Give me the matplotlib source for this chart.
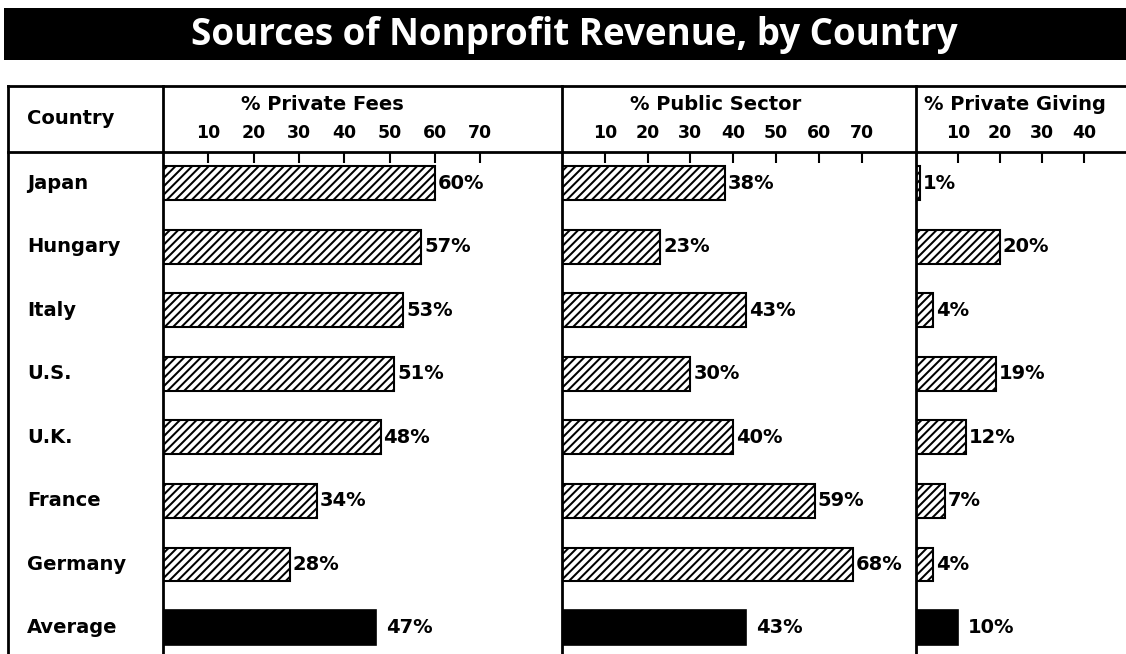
import matplotlib
matplotlib.use("Agg")
import matplotlib.pyplot as plt
from matplotlib.lines import Line2D
from matplotlib.patches import Rectangle
from matplotlib.transforms import blended_transform_factory

countries = ["Japan", "Hungary", "Italy", "U.S.", "U.K.", "France", "Germany", "Average"]
private_fees = [60, 57, 53, 51, 48, 34, 28, 47]
public_sector = [38, 23, 43, 30, 40, 59, 68, 43]
private_giving = [1, 20, 4, 19, 12, 7, 4, 10]
fees_ticks = [10, 20, 30, 40, 50, 60, 70]
public_ticks = [10, 20, 30, 40, 50, 60, 70]
giving_ticks = [10, 20, 30, 40]
title = "Sources of Nonprofit Revenue, by Country"
headers = ["% Private Fees", "% Public Sector", "% Private Giving"]

plt.rcParams["hatch.linewidth"] = 1.45
W, H = 1126, 654
fig = plt.figure(figsize=(W / 100, H / 100), dpi=100)
FONT = "DejaVu Sans"

def fx(px):
    return px / W

def fy(py):
    return 1 - py / H

# title bar
fig.patches.append(Rectangle((fx(4), fy(60)), fx(1126 - 4), (60 - 8) / H,
                             transform=fig.transFigure, facecolor="black",
                             edgecolor="none"))
fig.text(fx(574), fy(35), title, color="white", fontsize=26.5, fontweight="bold",
         family="Open Sans", ha="center", va="center")

top_px, line_px, bot_px = 86, 152, 654
col_edges = [163, 562, 916, 1126]
panels = [
    (private_fees, fees_ticks, 88.0),
    (public_sector, public_ticks, 82.7),
    (private_giving, giving_ticks, 50.0),
]
header_x = [322, 716, 1015]

n = len(countries)
axes = []
for k, (vals, ticks, xmax) in enumerate(panels):
    l, r = col_edges[k], col_edges[k + 1]
    ax = fig.add_axes([fx(l), 0, (r - l) / W, (bot_px - line_px) / H])
    ax.set_xlim(0, xmax)
    ax.set_ylim(n - 1 + 0.41, -0.49)
    for i, v in enumerate(vals):
        if i == n - 1:
            ax.barh(i, v, height=0.55, color="black", edgecolor="black", linewidth=1.2)
            off = 7
        else:
            ax.barh(i, v, height=0.53, color="white", edgecolor="black",
                    hatch="////", linewidth=1.5)
            off = 2
        ax.annotate(f"{v}%", (v, i), xytext=(off, 0), textcoords="offset points",
                    ha="left", va="center", fontsize=14, fontweight="bold",
                    family=FONT)
    ax.xaxis.tick_top()
    ax.set_xticks(ticks)
    ax.set_xticklabels([str(t) for t in ticks], fontweight="bold", family=FONT)
    ax.tick_params(axis="x", direction="in", length=8, width=1.5, pad=7,
                   labelsize=12.5)
    ax.set_yticks([])
    for s in ["right", "bottom", "top"]:
        ax.spines[s].set_visible(False)
    ax.spines["left"].set_linewidth(2.0)
    ax.set_facecolor("none")
    fig.text(fx(header_x[k]), fy(105), headers[k], fontsize=14, fontweight="bold",
             family=FONT, ha="center", va="center")
    axes.append(ax)

# country labels
tr = blended_transform_factory(fig.transFigure, axes[0].transData)
for i, c in enumerate(countries):
    axes[0].text(fx(27), i, c, transform=tr, ha="left", va="center",
                 fontsize=14, fontweight="bold", family=FONT)
fig.text(fx(27), fy(118), "Country", fontsize=14, fontweight="bold",
         family=FONT, ha="left", va="center")

# table rules
lw = 2.0
fig.add_artist(Line2D([fx(8), fx(1126)], [fy(top_px), fy(top_px)], color="black", lw=lw))
fig.add_artist(Line2D([fx(8), fx(1126)], [fy(line_px), fy(line_px)], color="black", lw=lw))
fig.add_artist(Line2D([fx(8), fx(8)], [fy(top_px), fy(bot_px)], color="black", lw=lw))
for x in col_edges[:3]:
    fig.add_artist(Line2D([fx(x), fx(x)], [fy(top_px), fy(line_px)], color="black", lw=lw))

fig.savefig("out.png", dpi=100, facecolor="white")
